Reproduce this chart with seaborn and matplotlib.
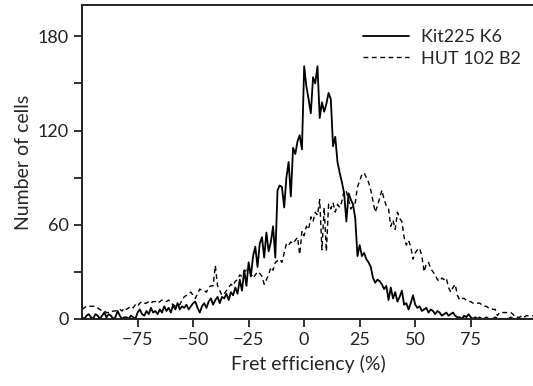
import numpy as np
import pandas as pd
import matplotlib
matplotlib.use("Agg")
import matplotlib.pyplot as plt
import seaborn as sns

# Fret efficiency bins (%), one per unit from -100 to 103
fret = list(range(-100, 104))

# Kit225 K6 cell counts
kit225 = [
    1, 0, 2, 3, 1, 0, 3, 2, 0, 2,          # -100 .. -91
    4, 1, 3, 2, 0, 1, 5, 2, 0, 1,          # -90 .. -81
    1, 0, 2, 1, 0, 4, 6, 3, 2, 5,          # -80 .. -71
    3, 7, 4, 5, 3, 6, 4, 8, 5, 7,          # -70 .. -61
    4, 9, 6, 10, 6, 8, 7, 9, 6, 8,         # -60 .. -51
    10, 11, 7, 4, 8, 10, 7, 11, 13, 9,     # -50 .. -41
    12, 14, 10, 14, 13, 16, 12, 17, 15, 20,  # -40 .. -31
    16, 25, 18, 31, 21, 36, 27, 40, 46, 33,  # -30 .. -21
    48, 52, 39, 55, 43, 49, 59, 39, 82, 85,  # -20 .. -11
    84, 71, 90, 100, 78, 109, 105, 113, 117, 108,  # -10 .. -1
    161, 148, 140, 131, 154, 150, 161, 128, 138, 132,  # 0 .. 9
    137, 144, 140, 110, 116, 100, 93, 87, 80, 62,  # 10 .. 19
    80, 76, 73, 64, 40, 47, 40, 42, 38, 36,  # 20 .. 29
    33, 26, 23, 25, 24, 22, 19, 21, 12, 20,  # 30 .. 39
    13, 17, 11, 14, 18, 9, 10, 6, 10, 15,   # 40 .. 49
    9, 7, 8, 5, 6, 7, 4, 6, 5, 3,          # 50 .. 59
    5, 4, 2, 3, 4, 2, 3, 4, 2, 1,          # 60 .. 69
    1, 0, 2, 1, 3, 1, 0, 1, 0, 1,          # 70 .. 79
    0, 0, 1, 0, 0, 0, 1, 0, 0, 0,          # 80 .. 89
    0, 0, 0, 1, 0, 0, 0, 0, 0, 0,          # 90 .. 99
    0, 0, 0, 0,                            # 100 .. 103
]

# HUT 102 B2 cell counts
hut102 = [
    6, 7, 8, 8, 8, 8, 8, 7, 6, 5,          # -100 .. -91
    5, 4, 4, 4, 5, 5, 6, 6, 5, 7,          # -90 .. -81
    6, 7, 8, 7, 9, 8, 10, 11, 10, 10,      # -80 .. -71
    11, 10, 11, 11, 10, 11, 12, 11, 11, 12,  # -70 .. -61
    10, 9, 8, 9, 9, 12, 14, 15, 16, 17,    # -60 .. -51
    15, 13, 16, 19, 18, 18, 17, 20, 21, 21,  # -50 .. -41
    34, 21, 18, 15, 16, 18, 20, 22, 21, 24,  # -40 .. -31
    25, 28, 27, 30, 31, 30, 29, 26, 28, 30,  # -30 .. -21
    29, 27, 22, 25, 28, 33, 31, 36, 37, 38,  # -20 .. -11
    36, 42, 48, 47, 49, 48, 50, 52, 41, 56,  # -10 .. -1
    53, 59, 57, 65, 62, 68, 66, 76, 44, 71,  # 0 .. 9
    43, 73, 70, 74, 68, 73, 71, 75, 82, 81,  # 10 .. 19
    76, 70, 72, 74, 84, 88, 92, 93, 90, 87,  # 20 .. 29
    82, 75, 68, 72, 77, 82, 76, 72, 70, 59,  # 30 .. 39
    63, 57, 68, 64, 62, 52, 47, 50, 46, 38,  # 40 .. 49
    42, 44, 45, 40, 30, 35, 36, 32, 30, 28,  # 50 .. 59
    25, 24, 26, 25, 26, 20, 17, 20, 22, 15,  # 60 .. 69
    12, 13, 13, 12, 11, 11, 10, 10, 10, 10,  # 70 .. 79
    9, 8, 8, 7, 7, 6, 6, 2, 4, 4,          # 80 .. 89
    4, 4, 4, 4, 3, 1, 1, 1, 2, 1,          # 90 .. 99
    2, 2, 2, 2,                            # 100 .. 103
]

df = pd.DataFrame({"fret": fret, "Kit225 K6": kit225, "HUT 102 B2": hut102})

sns.set_style("ticks")
plt.rcParams["font.family"] = ["Lato", "DejaVu Sans"]

fig = plt.figure(figsize=(5.33, 3.86), dpi=100)
ax = fig.add_axes([0.154, 0.174, 0.85, 0.813])

sns.lineplot(data=df, x="fret", y="Kit225 K6", color="black", linewidth=1.3,
             label="Kit225 K6", ax=ax)
sns.lineplot(data=df, x="fret", y="HUT 102 B2", color="black", linewidth=1.0,
             linestyle=(0, (3.5, 2.5)), label="HUT 102 B2", ax=ax)

ax.set_xlim(-100, 104)
ax.set_ylim(0, 200)
ax.set_xticks([-75, -50, -25, 0, 25, 50, 75])
ax.set_yticks([0, 30, 60, 90, 120, 150, 180])
ax.set_yticklabels(["0", "", "60", "", "120", "", "180"])
ax.tick_params(axis="both", direction="out", length=6, width=1.3,
               labelsize=13, colors="#222222")
ax.set_xlabel("Fret efficiency (%)", fontsize=14, labelpad=5)
ax.set_ylabel("Number of cells", fontsize=14)

for side in ["left", "bottom", "top"]:
    ax.spines[side].set_linewidth(1.4)
    ax.spines[side].set_color("#222222")
ax.spines["right"].set_visible(False)

leg = ax.legend(loc="upper right", frameon=False, fontsize=13,
                handlelength=2.5, handletextpad=0.7, labelspacing=0.3,
                bbox_to_anchor=(1.005, 0.975))

fig.savefig("out.png", dpi=100)
